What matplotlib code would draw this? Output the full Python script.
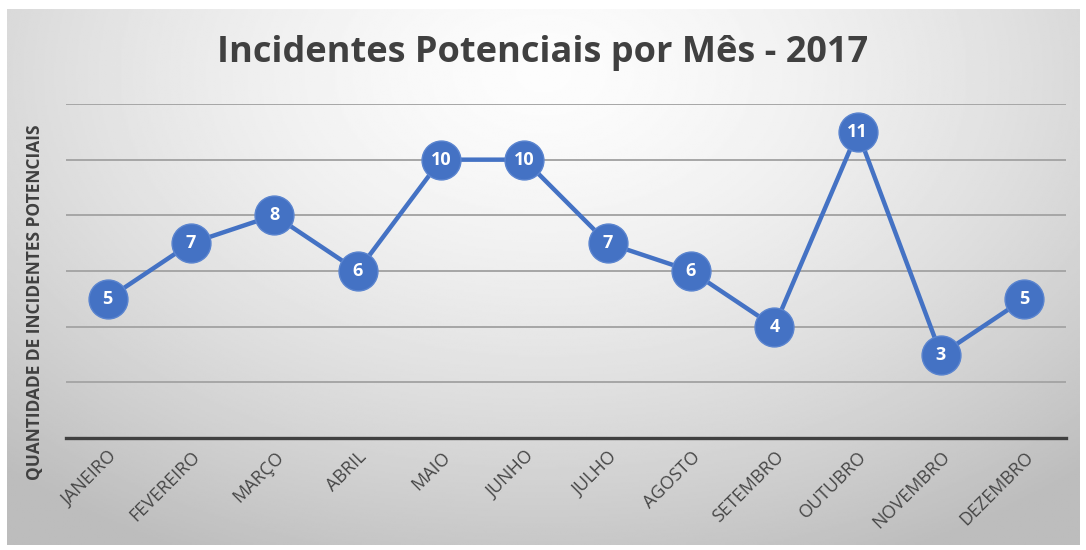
import numpy as np
import matplotlib
matplotlib.use("Agg")
import matplotlib.pyplot as plt

months = ["JANEIRO", "FEVEREIRO", "MARÇO", "ABRIL", "MAIO", "JUNHO", "JULHO",
          "AGOSTO", "SETEMBRO", "OUTUBRO", "NOVEMBRO", "DEZEMBRO"]
values = [5, 7, 8, 6, 10, 10, 7, 6, 4, 11, 3, 5]
title = "Incidentes Potenciais por Mês - 2017"
ylabel = "QUANTIDADE DE INCIDENTES POTENCIAIS"

plt.rcParams['font.family'] = ['Open Sans', 'DejaVu Sans']

W, H = 1086, 550
fig = plt.figure(figsize=(W / 100, H / 100), dpi=100)
fig.patch.set_facecolor("white")

# gradient background of chart area
bx0, by0, bx1, by1 = 7, 9, 1080, 545
bg = fig.add_axes([bx0 / W, 1 - by1 / H, (bx1 - bx0) / W, (by1 - by0) / H])
yy, xx = np.mgrid[0:1:300j, 0:1:600j]
r = np.sqrt(((xx - 0.5) / 0.75) ** 2 + ((yy - 0.12) / 1.0) ** 2)
r = np.clip(r, 0, 1)
shade = 0.99 - 0.25 * r ** 1.5
bg.imshow(shade, cmap="gray", vmin=0, vmax=1, aspect="auto",
          extent=[0, 1, 0, 1], origin="upper")
bg.set_axis_off()

ax = fig.add_axes([66 / W, 1 - 438 / H, (1066 - 66) / W, (438 - 104) / H])
ax.set_facecolor("none")
x = np.arange(len(months))
ax.set_xlim(-0.5, len(months) - 0.5)
ax.set_ylim(0, 12)
ax.set_yticks(np.arange(0, 13, 2))
ax.yaxis.grid(True, color="#A6A6A6", linewidth=1.4)
ax.set_axisbelow(True)
for s in ["top", "right", "left"]:
    ax.spines[s].set_visible(False)
ax.spines["bottom"].set_color("#404040")
ax.spines["bottom"].set_linewidth(2.4)
ax.spines["bottom"].set_zorder(3)
ax.tick_params(axis="y", length=0, labelleft=False)
ax.tick_params(axis="x", length=0, pad=7)
ax.set_xticks(x)
ax.set_xticklabels(months, rotation=45, ha="right", va="top",
                   rotation_mode="anchor", color="#474747", fontsize=13)

ax.plot(x, values, color="#4472C4", linewidth=3.2, marker="o", markersize=28,
        markerfacecolor="#4472C4", markeredgecolor="#5A84CF",
        markeredgewidth=1, zorder=4, clip_on=False)
for xi, v in zip(x, values):
    ax.text(xi, v, str(v), ha="center", va="center", color="white",
            fontsize=13, fontweight="bold", zorder=5)

fig.text(0.5, 1 - 53 / H, title, ha="center", va="center",
         fontsize=26, fontweight="bold", color="#404040")
fig.text(35 / W, 1 - 302 / H, ylabel, rotation=90, ha="center", va="center",
         fontsize=12.5, fontweight="bold", color="#404040")

fig.savefig("out.png", dpi=100)
